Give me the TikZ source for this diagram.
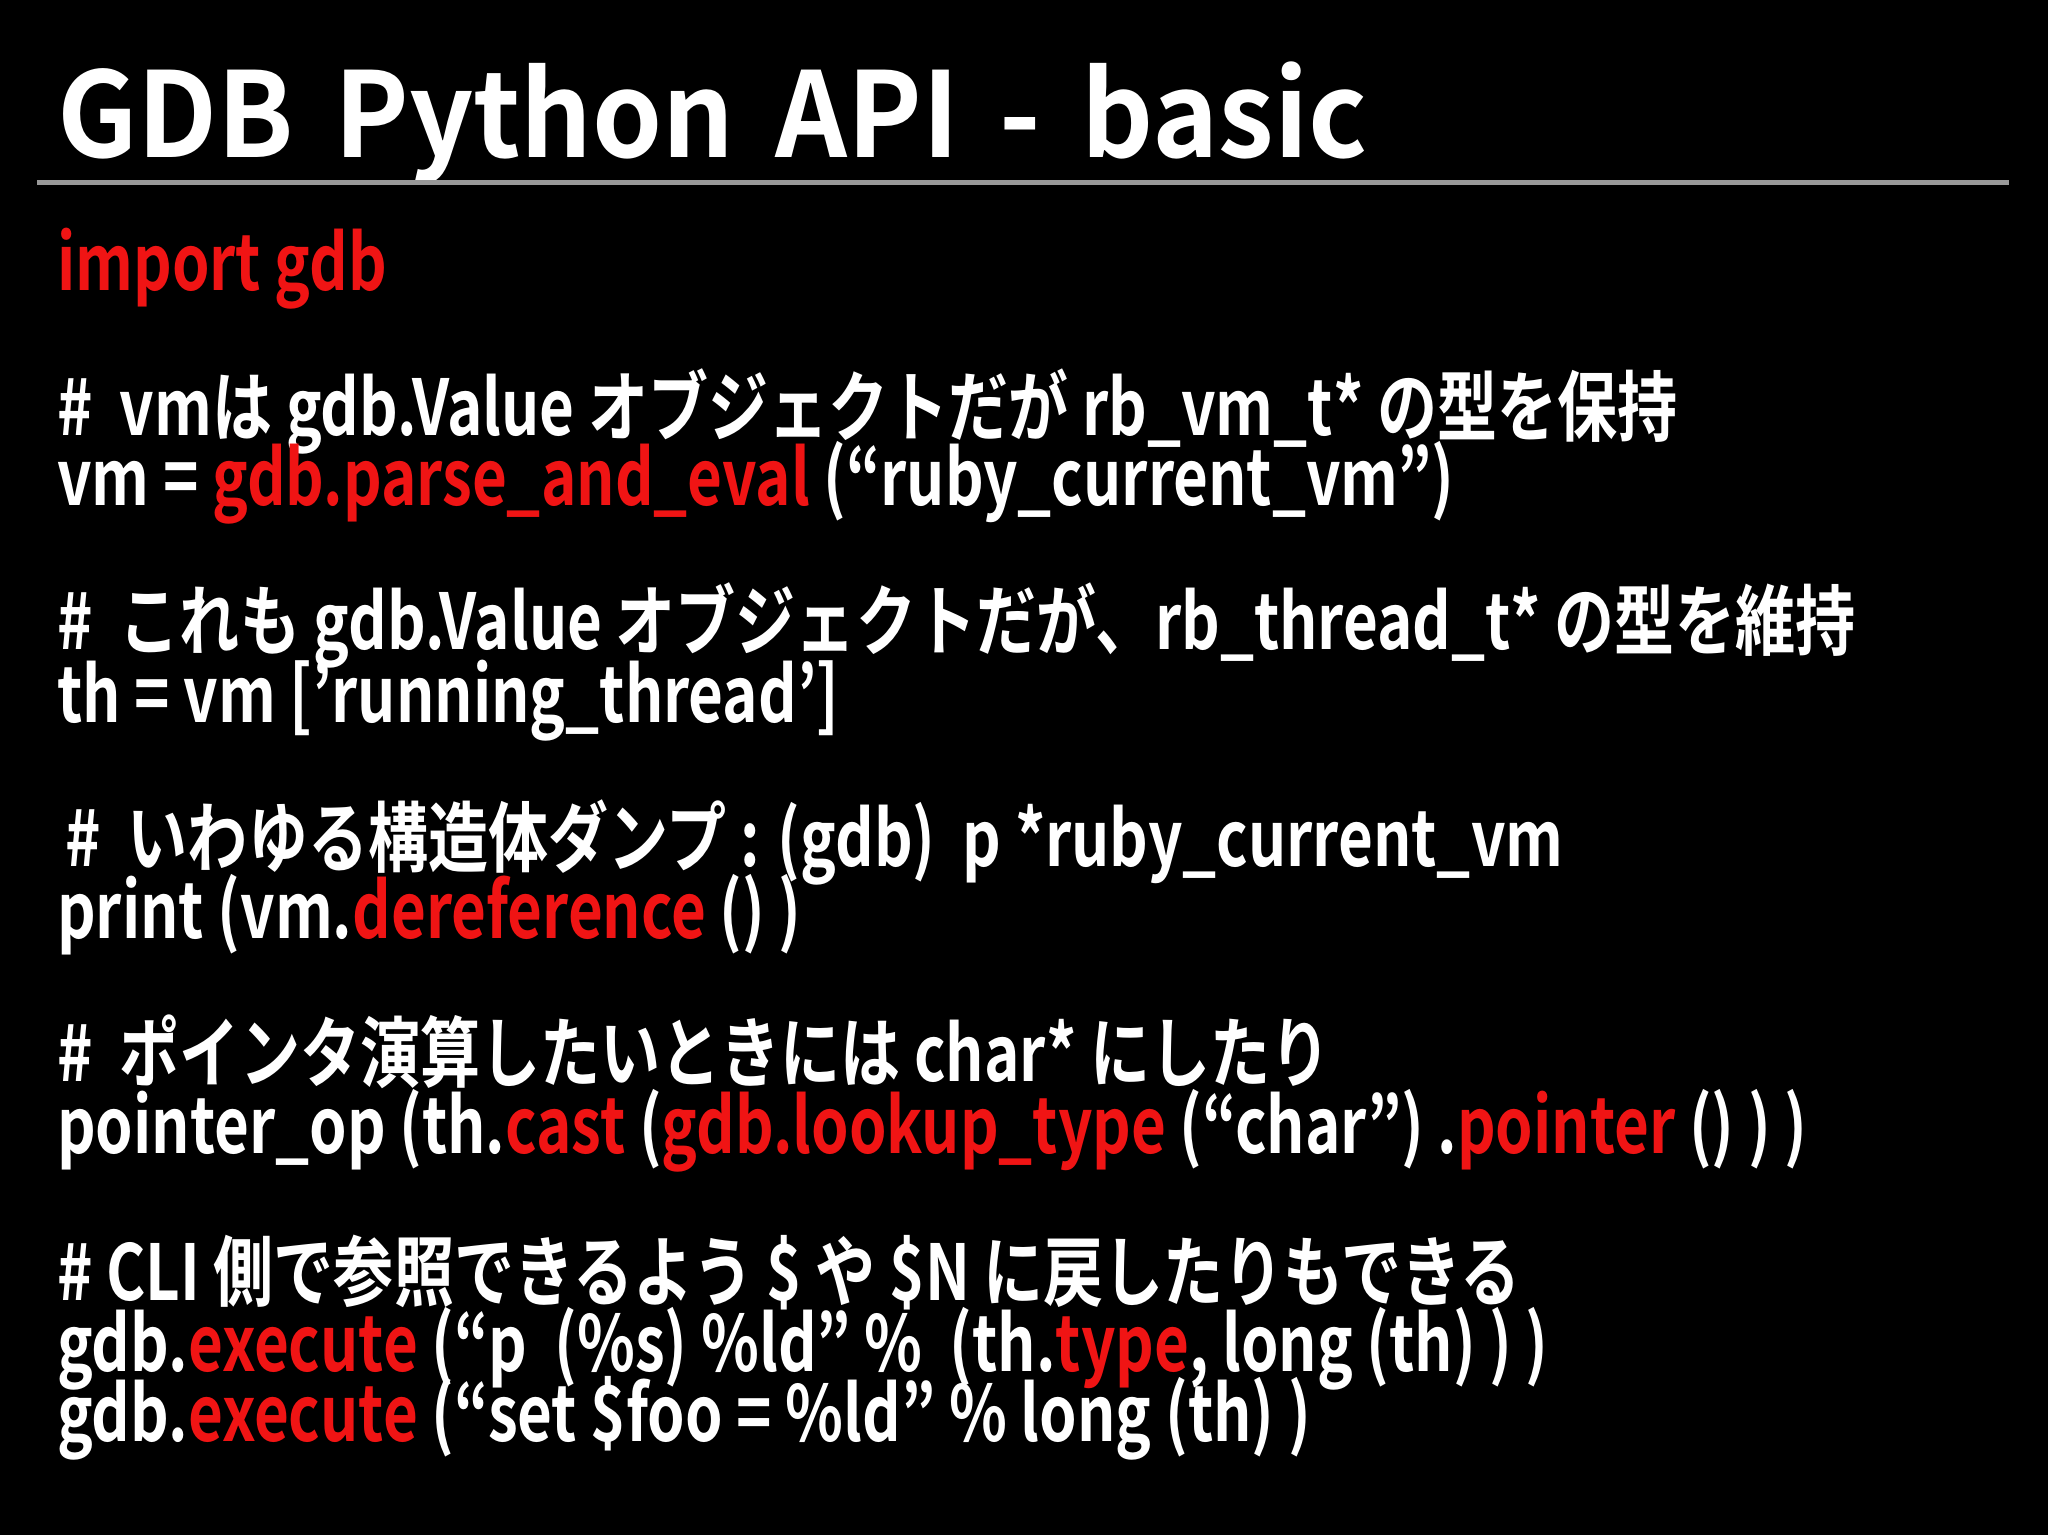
\documentclass[tikz,border=0pt]{standalone}
\usepackage{fontspec}
\setmainfont[FakeStretch=0.78]{Noto Sans CJK JP Bold}
\newfontfamily\titlefont[FakeStretch=0.95,WordSpace=1.6]{Noto Sans CJK JP Bold}
\definecolor{cred}{RGB}{240,20,20}
\begin{document}
\begin{tikzpicture}[x=1pt,y=-1pt,
  ln/.style={anchor=base west,inner sep=0pt,text=white,font=\fontsize{77}{77}\selectfont}]
\fill[black] (0,0) rectangle (2048,1535);
\useasboundingbox (0,0) rectangle (2048,1535);
\node[ln,font=\titlefont\fontsize{118}{118}\selectfont] (title) at (57,157) {GDB Python API - basic};
\draw[line width=5pt,gray!80] (37,182) -- (2009,182);
\node[ln] (l1) at (57,290) {\textcolor{cred}{import gdb}};
\node[ln] (l2) at (57,435) {\#\ \ vmは gdb.Value オブジェクトだが rb\_vm\_t* の型を保持};
\node[ln] (l3) at (57,505) {vm = \textcolor{cred}{gdb.parse\_and\_eval} (“ruby\_current\_vm”)};
\node[ln] (l4) at (57,649) {\#\ \ これも gdb.Value オブジェクトだが、rb\_thread\_t* の型を維持};
\node[ln] (l5) at (57,722) {th = vm ['running\_thread']};
\node[ln] (l6) at (65,866) {\#\ \ いわゆる構造体ダンプ : (gdb)\ \ p *ruby\_current\_vm};
\node[ln] (l7) at (57,938) {print (vm.\textcolor{cred}{dereference} () )};
\node[ln] (l8) at (57,1081) {\#\ \ ポインタ演算したいときには char* にしたり};
\node[ln] (l9) at (57,1153) {pointer\_op (th.\textcolor{cred}{cast} (\textcolor{cred}{gdb.lookup\_type} (“char”) .\textcolor{cred}{pointer} () ) )};
\node[ln] (l10) at (57,1300) {\# CLI 側で参照できるよう \$ や \$N に戻したりもできる};
\node[ln] (l11) at (57,1371) {gdb.\textcolor{cred}{execute} (“p\ \ (\%s) \%ld” \%\ \ (th.\textcolor{cred}{type}, long (th) ) )};
\node[ln] (l12) at (57,1441) {gdb.\textcolor{cred}{execute} (“set \$foo = \%ld” \% long (th) )};
\end{tikzpicture}
\end{document}
